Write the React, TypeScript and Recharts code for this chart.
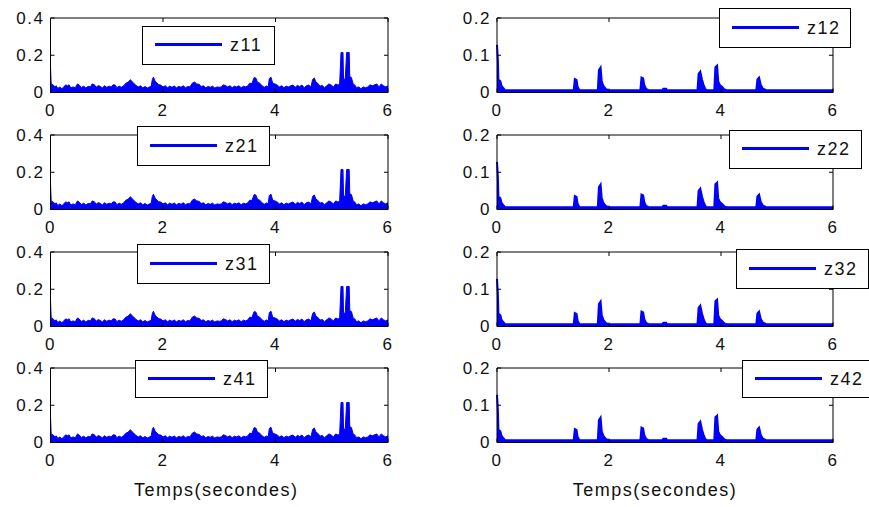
import React from 'react';
import { AreaChart, Area, XAxis, YAxis, ReferenceLine, Legend, Label } from 'recharts';

type Pt = [number, number];

// ---------- data ----------
const xTicks = [0, 2, 4, 6];
const leftYTicks = [0, 0.2, 0.4];
const rightYTicks = [0, 0.1, 0.2];
const leftNames = ['z11', 'z21', 'z31', 'z41'];
const rightNames = ['z12', 'z22', 'z32', 'z42'];
const xLabelText = 'Temps(secondes)';

// left column signal (z11..z41 look identical): [time (s), value]
const leftSignal: Pt[] = [
  [0, 0.14], [0.012, 0.045], [0.05, 0.04], [0.08, 0.03], [0.1, 0.036], [0.13, 0.022], [0.17, 0.03],
  [0.2, 0.02], [0.23, 0.028], [0.27, 0.041], [0.3, 0.036], [0.33, 0.041], [0.36, 0.024], [0.4, 0.03],
  [0.44, 0.026], [0.48, 0.046], [0.51, 0.04], [0.55, 0.027], [0.59, 0.034], [0.63, 0.024], [0.67, 0.033],
  [0.71, 0.03], [0.74, 0.046], [0.78, 0.042], [0.81, 0.028], [0.85, 0.037], [0.89, 0.032], [0.92, 0.024],
  [0.96, 0.036], [1.0, 0.028], [1.04, 0.034], [1.08, 0.03], [1.11, 0.041], [1.15, 0.04], [1.18, 0.026],
  [1.22, 0.034], [1.26, 0.028], [1.3, 0.036], [1.34, 0.05], [1.38, 0.055], [1.42, 0.069], [1.45, 0.058],
  [1.48, 0.05], [1.52, 0.038], [1.56, 0.03], [1.6, 0.036], [1.64, 0.025], [1.68, 0.032], [1.72, 0.024],
  [1.76, 0.03], [1.79, 0.034], [1.81, 0.07], [1.83, 0.082], [1.86, 0.06], [1.89, 0.052], [1.92, 0.042],
  [1.96, 0.04], [2.0, 0.03], [2.04, 0.036], [2.08, 0.026], [2.12, 0.034], [2.16, 0.028], [2.2, 0.035],
  [2.24, 0.025], [2.28, 0.033], [2.32, 0.028], [2.36, 0.036], [2.4, 0.026], [2.44, 0.032], [2.48, 0.03],
  [2.52, 0.05], [2.56, 0.056], [2.6, 0.046], [2.64, 0.044], [2.68, 0.032], [2.72, 0.036], [2.76, 0.025],
  [2.8, 0.032], [2.84, 0.028], [2.88, 0.034], [2.92, 0.024], [2.96, 0.03], [3.0, 0.028], [3.04, 0.03],
  [3.07, 0.041], [3.11, 0.038], [3.15, 0.03], [3.19, 0.036], [3.23, 0.026], [3.27, 0.034], [3.31, 0.03],
  [3.35, 0.036], [3.39, 0.025], [3.43, 0.034], [3.47, 0.03], [3.51, 0.036], [3.54, 0.05], [3.58, 0.048],
  [3.62, 0.08], [3.65, 0.078], [3.68, 0.055], [3.72, 0.05], [3.76, 0.036], [3.8, 0.028], [3.84, 0.035],
  [3.87, 0.03], [3.89, 0.075], [3.92, 0.082], [3.95, 0.05], [3.99, 0.046], [4.03, 0.04], [4.07, 0.03],
  [4.11, 0.036], [4.15, 0.026], [4.19, 0.034], [4.23, 0.03], [4.27, 0.036], [4.31, 0.04], [4.35, 0.028],
  [4.39, 0.038], [4.43, 0.032], [4.47, 0.04], [4.51, 0.026], [4.55, 0.036], [4.59, 0.04], [4.63, 0.03],
  [4.66, 0.07], [4.69, 0.078], [4.72, 0.055], [4.75, 0.05], [4.79, 0.034], [4.83, 0.038], [4.87, 0.026],
  [4.91, 0.036], [4.95, 0.046], [4.99, 0.04], [5.03, 0.03], [5.07, 0.046], [5.11, 0.04], [5.14, 0.044],
  [5.165, 0.215], [5.2, 0.215], [5.21, 0.07], [5.24, 0.073], [5.265, 0.215], [5.31, 0.215], [5.32, 0.086],
  [5.35, 0.08], [5.38, 0.046], [5.41, 0.04], [5.44, 0.026], [5.48, 0.03], [5.52, 0.02], [5.56, 0.03],
  [5.6, 0.026], [5.64, 0.03], [5.68, 0.041], [5.72, 0.036], [5.76, 0.041], [5.8, 0.046], [5.84, 0.03],
  [5.88, 0.046], [5.92, 0.036], [5.96, 0.03], [6, 0.036],
];

// right column signal (z12..z42 look identical): [time (s), value]
const rightSignal: Pt[] = [
  [0, 0.128], [0.015, 0.09], [0.025, 0.035], [0.06, 0.03], [0.08, 0.018], [0.11, 0.012], [0.14, 0.007],
  [0.2, 0.006], [1.37, 0.006], [1.39, 0.036], [1.42, 0.034], [1.44, 0.015], [1.47, 0.007], [1.5, 0.006],
  [1.8, 0.006], [1.82, 0.06], [1.85, 0.067], [1.87, 0.03], [1.9, 0.018], [1.94, 0.01], [1.98, 0.007],
  [2.0, 0.006], [2.56, 0.006], [2.58, 0.04], [2.61, 0.038], [2.63, 0.02], [2.66, 0.01], [2.7, 0.007],
  [2.95, 0.006], [2.97, 0.01], [3.02, 0.01], [3.04, 0.006], [3.58, 0.006], [3.6, 0.05], [3.63, 0.056],
  [3.66, 0.035], [3.69, 0.02], [3.72, 0.009], [3.75, 0.006], [3.88, 0.006], [3.9, 0.068], [3.93, 0.072],
  [3.95, 0.03], [3.98, 0.02], [4.02, 0.015], [4.06, 0.008], [4.1, 0.006], [4.63, 0.006], [4.65, 0.035],
  [4.68, 0.04], [4.71, 0.02], [4.75, 0.01], [4.8, 0.007], [4.85, 0.006], [6, 0.006],
];

// ---------- layout / style ----------
const FONT = '"Liberation Sans", Arial, Helvetica, sans-serif';
const TEXT = '#111';
const BLUE = '#0000ff';
const ROW_TOPS = [18, 134.5, 251.5, 368];
const PH = 74.5;
const COLS = [
  { chartLeft: 0, chartWidth: 430, plotLeft: 50.5, plotRight: 388, yMax: 0.4, yTicks: leftYTicks, names: leftNames, signal: leftSignal, sw: 1, labelShift: -3 },
  { chartLeft: 440, chartWidth: 429, plotLeft: 497, plotRight: 833, yMax: 0.2, yTicks: rightYTicks, names: rightNames, signal: rightSignal, sw: 2, labelShift: -10 },
];
const LEGENDS = [
  [
    { left: 142, top: 26, w: 133, h: 39 },
    { left: 137, top: 126, w: 133, h: 40 },
    { left: 137, top: 244, w: 133, h: 40 },
    { left: 135, top: 360, w: 133, h: 38 },
  ],
  [
    { left: 719, top: 8, w: 132, h: 40 },
    { left: 729, top: 130, w: 133, h: 39 },
    { left: 736, top: 249, w: 133, h: 40 },
    { left: 742, top: 360, w: 133, h: 38 },
  ],
];

const textStyle = { fontFamily: FONT, fontSize: 17, letterSpacing: 1.5, fill: TEXT } as const;

const XTick = (props: any) => {
  const { x, y, payload, ph } = props;
  return (
    <g>
      <line x1={x} x2={x} y1={y} y2={y - 4} stroke="#000" />
      <line x1={x} x2={x} y1={y - ph} y2={y - ph + 4} stroke="#000" />
      <text x={x} y={y + 18} textAnchor="middle" dy="0.35em" style={textStyle}>
        {String(payload.value)}
      </text>
    </g>
  );
};

const YTick = (props: any) => {
  const { x, y, payload, pw } = props;
  return (
    <g>
      <line x1={x} x2={x + 4} y1={y} y2={y} stroke="#000" />
      <line x1={x + pw - 4} x2={x + pw} y1={y} y2={y} stroke="#000" />
      <text x={x - 6} y={y} textAnchor="end" dy="0.35em" style={textStyle}>
        {String(payload.value)}
      </text>
    </g>
  );
};

const LegendBox = ({ name, w, h }: { name: string; w: number; h: number }) => (
  <div
    style={{
      boxSizing: 'border-box',
      width: w,
      height: h,
      border: '1px solid #000',
      background: '#fff',
      display: 'flex',
      alignItems: 'center',
      paddingLeft: 12,
      fontFamily: FONT,
      fontSize: 18,
      letterSpacing: 1.5,
      color: TEXT,
      whiteSpace: 'nowrap',
    }}
  >
    <div style={{ width: 67, height: 3, background: BLUE, marginRight: 8, marginTop: -2 }} />
    <span>{name}</span>
  </div>
);

function Subplot({ col, row }: { col: number; row: number }) {
  const c = COLS[col];
  const name = c.names[row];
  const lg = LEGENDS[col][row];
  const last = row === 3;
  const plotTop = ROW_TOPS[row];
  const chartTop = plotTop - 10;
  const xh = last ? 64 : 30;
  const height = 10 + PH + xh;
  const rows = c.signal.map(([t, v]) => ({ t, v }));
  const pw = c.plotRight - c.plotLeft;
  const renderXLabel = (p: any) => {
    const vb = p.viewBox || { x: c.plotLeft - c.chartLeft, y: 10 + PH, width: pw, height: xh };
    return (
      <text
        x={vb.x + vb.width / 2 + c.labelShift}
        y={vb.y + 47}
        textAnchor="middle"
        dy="0.35em"
        style={{ ...textStyle, fontSize: 18 }}
      >
        {xLabelText}
      </text>
    );
  };
  return (
    <div style={{ position: 'absolute', left: c.chartLeft, top: chartTop }}>
      <AreaChart
        width={c.chartWidth}
        height={height}
        data={rows}
        margin={{ top: 10, right: c.chartLeft + c.chartWidth - c.plotRight, bottom: 0, left: 0 }}
      >
        <XAxis
          dataKey="t"
          type="number"
          domain={[0, 6]}
          ticks={xTicks}
          interval={0}
          height={xh}
          tickSize={0}
          tickMargin={0}
          tickLine={false}
          axisLine={{ stroke: '#000' }}
          tick={<XTick ph={PH} />}
        >
          {last ? <Label content={renderXLabel} /> : null}
        </XAxis>
        <YAxis
          type="number"
          domain={[0, c.yMax]}
          ticks={c.yTicks}
          interval={0}
          width={c.plotLeft - c.chartLeft}
          tickSize={0}
          tickMargin={0}
          tickLine={false}
          axisLine={{ stroke: '#000' }}
          tick={<YTick pw={pw} />}
        />
        <ReferenceLine y={c.yMax} stroke="#000" />
        <ReferenceLine x={6} stroke="#000" />
        <Area
          type="linear"
          dataKey="v"
          name={name}
          stroke={BLUE}
          strokeWidth={c.sw}
          fill={BLUE}
          fillOpacity={1}
          dot={false}
          activeDot={false}
          isAnimationActive={false}
        />
        <Legend
          layout="horizontal"
          verticalAlign="middle"
          align="center"
          wrapperStyle={{ left: lg.left - c.chartLeft, top: lg.top - chartTop, width: lg.w, height: lg.h }}
          content={() => <LegendBox name={name} w={lg.w} h={lg.h} />}
        />
      </AreaChart>
    </div>
  );
}

export default function App() {
  return (
    <div
      style={{
        position: 'absolute',
        left: 0,
        top: 0,
        width: 869,
        height: 507,
        overflow: 'hidden',
        background: '#fff',
      }}
    >
      {[0, 1].map((col) => [0, 1, 2, 3].map((row) => <Subplot key={`${col}-${row}`} col={col} row={row} />))}
    </div>
  );
}
